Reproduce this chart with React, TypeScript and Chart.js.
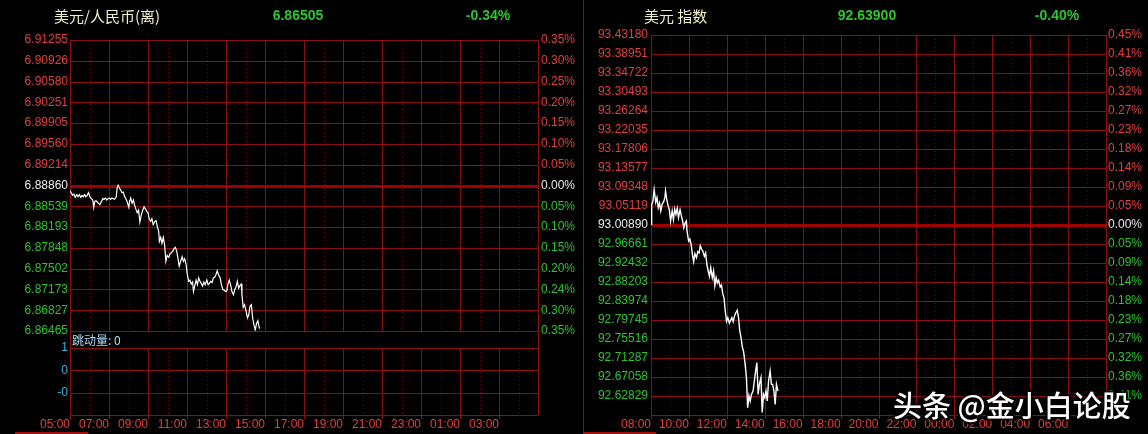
import React, { useEffect, useRef } from 'react';
import { Chart, registerables } from 'chart.js';

Chart.register(...registerables);

// Both panels cover one 24h session, measured in minutes after the open.
const SESSION_MINUTES = 1440;
const MINOR_STEP = 60;
const MAJOR_STEP = 120;

// ---------- 美元/人民币(离) ----------
const cnhTitle = '美元/人民币(离)';
const cnhPrevClose = 6.8886;
const cnhMinutes = [
  0, 4, 8, 12, 16, 21, 25, 29, 33, 37,
  41, 45, 49, 53, 57, 62, 66, 70, 73, 76,
  80, 84, 88, 92, 96, 101, 105, 109, 113, 117,
  121, 125, 129, 133, 137, 142, 145, 148, 152, 156,
  160, 164, 168, 172, 176, 181, 183, 187, 191, 195,
  199, 203, 207, 211, 215, 219, 224, 228, 232, 236,
  240, 244, 248, 252, 256, 261, 265, 269, 273, 275,
  279, 283, 287, 291, 295, 299, 304, 308, 312, 316,
  320, 324, 328, 332, 336, 341, 345, 349, 353, 357,
  361, 365, 369, 373, 377, 380, 384, 388, 392, 396,
  400, 404, 408, 412, 416, 421, 425, 429, 433, 437,
  441, 445, 449, 453, 457, 462, 466, 470, 474, 478,
  482, 486, 490, 494, 498, 503, 507, 511, 515, 519,
  523, 527, 529, 533, 537, 542, 546, 550, 554, 558,
  562, 566, 570, 574, 578, 583,
];
const cnhPrices = [
  6.88775, 6.88737, 6.88698, 6.8872, 6.88665, 6.88709, 6.88676, 6.88709, 6.88665, 6.88698,
  6.88676, 6.88709, 6.88676, 6.88698, 6.88742, 6.88665, 6.88643, 6.88621, 6.885, 6.88599,
  6.8861, 6.88588, 6.88566, 6.88544, 6.88588, 6.88643, 6.88632, 6.88654, 6.88621, 6.88643,
  6.88654, 6.88632, 6.88654, 6.88643, 6.88632, 6.88665, 6.88818, 6.88862, 6.88818, 6.88785,
  6.88742, 6.88753, 6.88676, 6.88643, 6.88588, 6.885, 6.88588, 6.88654, 6.88566, 6.88621,
  6.88533, 6.88467, 6.88412, 6.88456, 6.88259, 6.88368, 6.88456, 6.88511, 6.88478, 6.88434,
  6.88412, 6.88303, 6.8827, 6.88314, 6.88215, 6.8827, 6.88281, 6.88171, 6.88105, 6.8794,
  6.88006, 6.87908, 6.88006, 6.87886, 6.87611, 6.8771, 6.87677, 6.87743, 6.87754, 6.87776,
  6.8782, 6.87842, 6.87787, 6.87666, 6.87534, 6.87622, 6.87688, 6.87611, 6.87655, 6.87567,
  6.87392, 6.87282, 6.87304, 6.87238, 6.87271, 6.87117, 6.87216, 6.87304, 6.87227, 6.87337,
  6.87282, 6.87249, 6.87205, 6.87271, 6.87227, 6.87304, 6.87227, 6.87249, 6.87282, 6.8726,
  6.87337, 6.87348, 6.87392, 6.87458, 6.87392, 6.87337, 6.87227, 6.8715, 6.87139, 6.87117,
  6.87117, 6.87238, 6.87304, 6.87227, 6.87117, 6.87063, 6.8715, 6.87194, 6.87282, 6.87172,
  6.87216, 6.87238, 6.87063, 6.86854, 6.86898, 6.86788, 6.86679, 6.86733, 6.86876, 6.86898,
  6.86679, 6.86569, 6.86481, 6.86591, 6.86635, 6.86505,
];
const cnhPriceTicks = [
  '6.91255', '6.90926', '6.90580', '6.90251', '6.89905', '6.89560', '6.89214', '6.88860',
  '6.88539', '6.88193', '6.87848', '6.87502', '6.87173', '6.86827', '6.86465',
];
const cnhPctTicks = [
  '0.35%', '0.30%', '0.25%', '0.20%', '0.15%', '0.10%', '0.05%', '0.00%',
  '0.05%', '0.10%', '0.15%', '0.20%', '0.24%', '0.30%', '0.35%',
];
const cnhTimeTicks = [
  '05:00', '07:00', '09:00', '11:00', '13:00', '15:00', '17:00',
  '19:00', '21:00', '23:00', '01:00', '03:00', '',
];

// ---------- 跳动量 sub-panel ----------
const tickVolTitle = '跳动量: 0';
const tickVolTicks = ['1', '0', '-0', ''];
const tickVolRange = [-2, 1];

// ---------- 美元 指数 ----------
const dxyTitle = '美元 指数';
const dxyPrevClose = 93.0089;
const dxyRange = [92.586, 93.4318];
const dxyMinutes = [
  0, 2, 6, 10, 15, 19, 23, 27, 31, 35,
  40, 44, 46, 50, 54, 58, 62, 67, 71, 75,
  79, 83, 87, 92, 96, 100, 104, 108, 112, 114,
  119, 123, 127, 131, 135, 139, 144, 148, 152, 156,
  160, 164, 169, 173, 177, 181, 185, 189, 194, 198,
  202, 206, 210, 214, 219, 223, 227, 231, 235, 239,
  243, 248, 252, 256, 260, 264, 268, 273, 277, 281,
  285, 289, 293, 298, 302, 306, 310, 314, 318, 323,
  327, 331, 335, 339, 343, 348, 352, 356, 360, 364,
  368, 372, 377, 381, 385, 389, 393, 397, 402,
];
const dxyPrices = [
  93.01038, 93.05342, 93.06232, 93.08755, 93.05935, 93.06974, 93.04748, 93.05787, 93.04006, 93.0549,
  93.06084, 93.06974, 93.08458, 93.06529, 93.05193, 93.04303, 93.0178, 93.04006, 93.02077, 93.04451,
  93.03264, 93.046, 93.02522, 93.04303, 93.02967, 93.0178, 93.00296, 93.01335, 93.0178, 92.99554,
  92.97328, 92.97773, 92.96586, 92.9436, 92.92728, 92.94508, 92.93618, 92.94954, 92.94657, 92.96289,
  92.95547, 92.95102, 92.93915, 92.94657, 92.91986, 92.9065, 92.89463, 92.91392, 92.89166, 92.9065,
  92.87385, 92.89166, 92.87979, 92.88572, 92.87088, 92.87534, 92.85604, 92.84714, 92.81746, 92.7952,
  92.80262, 92.79075, 92.79668, 92.80262, 92.79372, 92.80559, 92.81301, 92.81894, 92.80262, 92.77294,
  92.7581, 92.73732, 92.72694, 92.69874, 92.66906, 92.60228, 92.62899, 92.61712, 92.63196, 92.63938,
  92.66164, 92.6839, 92.70245, 92.63196, 92.65422, 92.66906, 92.59189, 92.63196, 92.62454, 92.63938,
  92.61712, 92.66164, 92.6839, 92.65422, 92.65422, 92.63938, 92.6097, 92.65422, 92.639,
];
const dxyPriceTicks = [
  '93.43180', '93.38951', '93.34722', '93.30493', '93.26264', '93.22035', '93.17806',
  '93.13577', '93.09348', '93.05119', '93.00890', '92.96661', '92.92432', '92.88203',
  '92.83974', '92.79745', '92.75516', '92.71287', '92.67058', '92.62829', '',
];
const dxyPctTicks = [
  '0.45%', '0.41%', '0.36%', '0.32%', '0.27%', '0.23%', '0.18%', '0.14%', '0.09%', '0.05%',
  '0.00%', '0.05%', '0.09%', '0.14%', '0.18%', '0.23%', '0.27%', '0.32%', '0.36%', '0.41%', '',
];
const dxyTimeTicks = [
  '08:00', '10:00', '12:00', '14:00', '16:00', '18:00', '20:00',
  '22:00', '00:00', '02:00', '04:00', '06:00', '',
];

const watermarkText = '头条 @金小白论股';

// ---------- styling ----------
const C = {
  grid: '#8a1010',
  gridDot: '#6a0c0c',
  zero: '#a00000',
  up: '#e0403c',
  down: '#2ec42e',
  flat: '#e8e8e8',
  line: '#ffffff',
  title: '#f0f0c8',
  cyan: '#3bb4dc',
  cyanLight: '#a6dcf4',
  tab: '#a01010',
};
const FONT = "'Liberation Sans', Arial, sans-serif";
const CJK = "'Noto Sans CJK SC', 'Noto Sans', sans-serif";

const levelColor = (zeroIdx: number) => (t: number) =>
  t < zeroIdx ? C.up : t === zeroIdx ? C.flat : C.down;

// Evenly spaced value axis whose labels are listed top to bottom.
function valueAxis(
  position: 'left' | 'right',
  labels: string[],
  range: number[],
  width: number,
  pad: number,
  color: (topIndex: number) => string,
) {
  const n = labels.length;
  const [min, max] = range;
  return {
    type: 'linear',
    position,
    min,
    max,
    afterBuildTicks: (s: any) => {
      s.ticks = labels.map((_, i) => ({ value: min + ((max - min) * i) / (n - 1) }));
    },
    afterFit: (s: any) => {
      s.width = width;
    },
    grid: { display: false, drawTicks: false },
    border: { display: false },
    ticks: {
      autoSkip: false,
      padding: pad,
      font: { family: FONT, size: 12 },
      color: (ctx: any) => color(n - 1 - ctx.index),
      callback: (_v: number, i: number) => labels[n - 1 - i],
    },
  };
}

function timeAxis(labels: string[], height: number) {
  const step = SESSION_MINUTES / (labels.length - 1);
  return {
    type: 'linear',
    position: 'bottom',
    min: 0,
    max: SESSION_MINUTES,
    afterBuildTicks: (s: any) => {
      s.ticks = labels.map((_, i) => ({ value: i * step }));
    },
    afterFit: (s: any) => {
      s.height = height;
    },
    grid: { display: false, drawTicks: false },
    border: { display: false },
    ticks: {
      autoSkip: false,
      maxRotation: 0,
      minRotation: 0,
      align: 'end',
      padding: 2,
      color: C.up,
      font: { family: FONT, size: 12 },
      callback: (_v: number, i: number) => labels[i],
    },
  };
}

const crisp = (v: number) => Math.round(v) + 0.5;

function strokeLine(ctx: CanvasRenderingContext2D, x1: number, y1: number, x2: number, y2: number) {
  ctx.beginPath();
  ctx.moveTo(x1, y1);
  ctx.lineTo(x2, y2);
  ctx.stroke();
}

// Grid: solid rows at every value tick, solid columns every two hours,
// dotted columns on the odd hours, and a heavy line at the previous close.
function drawGrid(chart: any, zero?: number) {
  const { ctx, chartArea: a } = chart;
  const xs = chart.scales.x;
  const ys = chart.scales.y;
  ctx.save();
  ctx.lineWidth = 1;
  for (let m = 0; m <= SESSION_MINUTES; m += MINOR_STEP) {
    const x = crisp(xs.getPixelForValue(m));
    const major = m % MAJOR_STEP === 0;
    ctx.strokeStyle = major ? C.grid : C.gridDot;
    ctx.setLineDash(major ? [] : [1, 3]);
    strokeLine(ctx, x, a.top, x, a.bottom);
  }
  ctx.setLineDash([]);
  ctx.strokeStyle = C.grid;
  for (const t of ys.ticks) {
    const y = crisp(ys.getPixelForValue(t.value));
    strokeLine(ctx, a.left, y, a.right, y);
  }
  if (zero !== undefined) {
    ctx.lineWidth = 3;
    ctx.strokeStyle = C.zero;
    const y = crisp(ys.getPixelForValue(zero));
    strokeLine(ctx, a.left, y, a.right, y);
  }
  ctx.restore();
}

function drawTimeMarks(chart: any) {
  const { ctx, chartArea: a } = chart;
  const xs = chart.scales.x;
  ctx.save();
  ctx.lineWidth = 1;
  ctx.strokeStyle = C.grid;
  for (let m = 0; m < SESSION_MINUTES; m += MAJOR_STEP) {
    const x = crisp(xs.getPixelForValue(m));
    strokeLine(ctx, x, a.bottom, x, a.bottom + 4);
  }
  ctx.restore();
}

function drawHeader(
  ctx: CanvasRenderingContext2D,
  title: string,
  titleX: number,
  last: number,
  prev: number,
  priceX: number,
  pctX: number,
) {
  const change = ((last - prev) / prev) * 100;
  ctx.save();
  ctx.textBaseline = 'middle';
  ctx.textAlign = 'left';
  ctx.font = `15px ${CJK}`;
  ctx.fillStyle = C.title;
  ctx.fillText(title, titleX, 16);
  ctx.font = `bold 14px ${FONT}`;
  ctx.fillStyle = change < 0 ? C.down : C.up;
  ctx.textAlign = 'center';
  ctx.fillText(last.toFixed(5), priceX, 16);
  ctx.fillText(`${change.toFixed(2)}%`, pctX, 16);
  ctx.restore();
}

const baseOptions = {
  responsive: false,
  animation: false,
  devicePixelRatio: 1,
  events: [],
  plugins: { legend: { display: false }, tooltip: { enabled: false } },
};

const priceLine = (minutes: number[], prices: number[], width: number) => ({
  data: minutes.map((m, i) => ({ x: m, y: prices[i] })),
  borderColor: C.line,
  borderWidth: width,
  pointRadius: 0,
  tension: 0,
});

function cnhConfig(): any {
  const zeroIdx = cnhPctTicks.indexOf('0.00%');
  const range = [parseFloat(cnhPriceTicks[cnhPriceTicks.length - 1]), parseFloat(cnhPriceTicks[0])];
  return {
    type: 'line',
    data: { datasets: [priceLine(cnhMinutes, cnhPrices, 1.2)] },
    options: {
      ...baseOptions,
      layout: { padding: { top: 40, bottom: 14, left: 0, right: 0 } },
      scales: {
        x: { type: 'linear', min: 0, max: SESSION_MINUTES, display: false },
        y: valueAxis('left', cnhPriceTicks, range, 70, 2, levelColor(zeroIdx)),
        yPct: valueAxis('right', cnhPctTicks, range, 44, 3, levelColor(zeroIdx)),
      },
    },
    plugins: [
      {
        id: 'cnhPanel',
        beforeDatasetsDraw: (chart: any) => drawGrid(chart, cnhPrevClose),
        afterDraw: (chart: any) =>
          drawHeader(chart.ctx, cnhTitle, 54, cnhPrices[cnhPrices.length - 1], cnhPrevClose, 298, 488),
      },
    ],
  };
}

function tickVolConfig(): any {
  return {
    type: 'line',
    data: { datasets: [] },
    options: {
      ...baseOptions,
      layout: { padding: { top: 17, bottom: 0, left: 0, right: 44 } },
      scales: {
        x: timeAxis(cnhTimeTicks, 19),
        y: valueAxis('left', tickVolTicks, tickVolRange, 70, 2, () => C.cyan),
      },
    },
    plugins: [
      {
        id: 'tickVolPanel',
        beforeDatasetsDraw: (chart: any) => {
          drawGrid(chart);
          drawTimeMarks(chart);
          const { ctx, chartArea: a } = chart;
          ctx.save();
          ctx.strokeStyle = C.grid;
          ctx.lineWidth = 1;
          strokeLine(ctx, crisp(a.left), 0, crisp(a.left), a.top);
          strokeLine(ctx, crisp(a.right), 0, crisp(a.right), a.top);
          ctx.font = `12px ${CJK}`;
          ctx.fillStyle = C.cyanLight;
          ctx.textBaseline = 'middle';
          ctx.fillText(tickVolTitle, a.left + 2, 9);
          ctx.strokeStyle = C.tab;
          ctx.lineWidth = 2;
          strokeLine(ctx, 15, 102, 88, 102);
          ctx.restore();
        },
      },
    ],
  };
}

function dxyConfig(): any {
  const zeroIdx = dxyPctTicks.indexOf('0.00%');
  return {
    type: 'line',
    data: { datasets: [priceLine(dxyMinutes, dxyPrices, 1.4)] },
    options: {
      ...baseOptions,
      layout: { padding: { top: 35, bottom: 0, left: 0, right: 0 } },
      scales: {
        x: timeAxis(dxyTimeTicks, 19),
        y: valueAxis('left', dxyPriceTicks, dxyRange, 68, 3, levelColor(zeroIdx)),
        yPct: valueAxis('right', dxyPctTicks, dxyRange, 42, 2, levelColor(zeroIdx)),
      },
    },
    plugins: [
      {
        id: 'dxyPanel',
        beforeDatasetsDraw: (chart: any) => {
          drawGrid(chart, dxyPrevClose);
          drawTimeMarks(chart);
          const { ctx } = chart;
          ctx.save();
          ctx.strokeStyle = C.grid;
          ctx.lineWidth = 1;
          strokeLine(ctx, 0.5, 0, 0.5, chart.height);
          ctx.strokeStyle = C.tab;
          ctx.lineWidth = 2;
          strokeLine(ctx, 0, chart.height - 1, 73, chart.height - 1);
          ctx.restore();
        },
        afterDraw: (chart: any) => {
          const { ctx } = chart;
          drawHeader(ctx, dxyTitle, 61, dxyPrices[dxyPrices.length - 1], dxyPrevClose, 284, 474);
          ctx.save();
          ctx.font = `500 29px ${CJK}`;
          ctx.textBaseline = 'middle';
          ctx.textAlign = 'left';
          ctx.lineJoin = 'round';
          ctx.lineWidth = 4;
          ctx.strokeStyle = 'rgba(0,0,0,0.75)';
          ctx.strokeText(watermarkText, 310, 406);
          ctx.fillStyle = '#ffffff';
          ctx.shadowColor = 'rgba(0,0,0,0.9)';
          ctx.shadowBlur = 3;
          ctx.fillText(watermarkText, 310, 406);
          ctx.restore();
        },
      },
    ],
  };
}

function ChartCanvas(props: { left: number; top: number; width: number; height: number; make: () => any }) {
  const ref = useRef<HTMLCanvasElement>(null);
  useEffect(() => {
    const chart = new Chart(ref.current as HTMLCanvasElement, props.make());
    return () => chart.destroy();
  }, []);
  const { left, top, width, height } = props;
  return (
    <canvas
      ref={ref}
      width={width}
      height={height}
      style={{ position: 'absolute', left, top, width, height, display: 'block' }}
    />
  );
}

export default function App() {
  return (
    <div
      style={{
        position: 'fixed',
        left: 0,
        top: 0,
        width: 1148,
        height: 434,
        background: '#000',
        overflow: 'hidden',
      }}
    >
      <ChartCanvas left={0} top={0} width={582} height={345} make={cnhConfig} />
      <ChartCanvas left={0} top={331} width={582} height={103} make={tickVolConfig} />
      <ChartCanvas left={583} top={0} width={565} height={434} make={dxyConfig} />
    </div>
  );
}
